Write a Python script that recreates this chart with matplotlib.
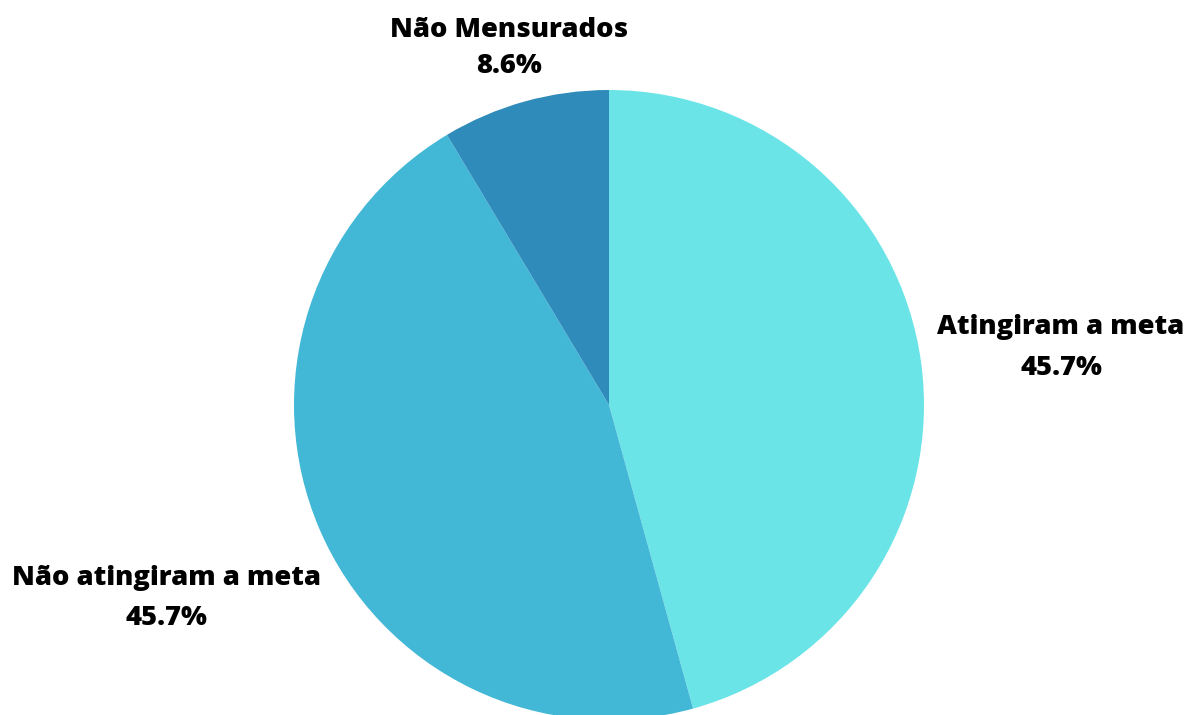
import matplotlib
matplotlib.use("Agg")
import matplotlib.pyplot as plt

categories = ["Atingiram a meta", "Não atingiram a meta", "Não Mensurados"]
values = [45.7, 45.7, 8.6]
colors = ["#6BE4E8", "#42B7D6", "#2E8BBA"]

W, H = 1187, 715
fig = plt.figure(figsize=(W / 100, H / 100), dpi=100)
ax = fig.add_axes([0, 0, 1, 1])

cx, cy, r = 609, H - 405, 315
ax.pie(values, colors=colors, startangle=90, counterclock=False,
       center=(cx, cy), radius=r, frame=True,
       wedgeprops=dict(linewidth=0))
ax.set_xlim(0, W)
ax.set_ylim(0, H)
ax.set_aspect("equal")
ax.axis("off")

fam = ["Open Sans", "DejaVu Sans"]
label_pos = {
    "Atingiram a meta": (1061, 327, 368),
    "Não atingiram a meta": (166, 578, 618),
    "Não Mensurados": (509, 30, 66),
}
for cat, val in zip(categories, values):
    x, y1, y2 = label_pos[cat]
    ax.text(x, H - y1, cat, ha="center", va="center", fontsize=19.7,
            fontweight="heavy", family=fam, color="black")
    ax.text(x, H - y2, f"{val:.1f}%", ha="center", va="center", fontsize=19.7,
            fontweight="heavy", family=fam, color="black")

fig.savefig("out.png", dpi=100)
